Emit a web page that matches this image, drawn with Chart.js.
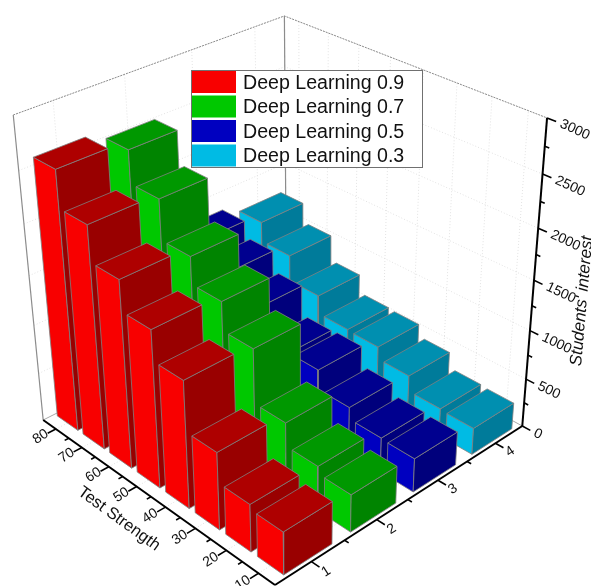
<!DOCTYPE html>
<html>
<head>
<meta charset="utf-8">
<title>3D bars</title>
<script src="https://cdn.jsdelivr.net/npm/chart.js@4"></script>
<style>
  html, body { margin: 0; padding: 0; background: #fff; }
  canvas { display: block; }
</style>
</head>
<body>
<canvas id="chart" width="591" height="586"></canvas>
<script>
const seriesNames = ["Deep Learning 0.9", "Deep Learning 0.7", "Deep Learning 0.5", "Deep Learning 0.3"];
const seriesTicks = [1, 2, 3, 4];
const strengthTicks = [10, 20, 30, 40, 50, 60, 70, 80];
const interestTicks = [0, 500, 1000, 1500, 2000, 2500, 3000];

// one value per test strength, 10 -> 80
const values09 = [430, 480, 780, 1280, 1580, 1880, 2230, 2590];
const values07 = [380, 455, 690, 1235, 1520, 1790, 2185, 2505];
const values05 = [345, 355, 475, 675, 665, 965, 1170, 1330];
const values03 = [275, 285, 445, 570, 580, 770, 1035, 1235];
const allValues = [values09, values07, values05, values03];

// face colours: side facing left, top, side facing right
const frontColors = ["#f80000", "#00c800", "#0000c0", "#00bbe4"];
const topColors = ["#ae0000", "#009800", "#00008f", "#008fb0"];
const sideColors = ["#990000", "#008400", "#00007c", "#007b9a"];

// axis ranges of the box
const seriesMin = 0.47, seriesMax = 4.49;
const strengthMin = 5, strengthMax = 85;
const interestMax = 3000;
const barU = 0.178, barV = 0.1;

// perspective camera, solved from the corners of the box
function project(u, v, w) {
  const d = 1 + 0.1383 * u + 0.1507 * v - 0.1174 * w;
  return {
    x: (319.5 * u - 225.3 * v - 36 * w + 275) / d,
    y: (-100.1 * u - 101.7 * v - 364.5 * w + 585) / d
  };
}
const toU = s => (s - seriesMin) / (seriesMax - seriesMin);
const toV = s => (s - strengthMin) / (strengthMax - strengthMin);
const toW = s => s / interestMax;

const layers = [];

function addLine(points, color, width, dash) {
  layers.push({
    data: points.map(p => project(p[0], p[1], p[2])),
    showLine: true,
    borderColor: color,
    borderWidth: width,
    borderDash: dash || [],
    pointRadius: 0,
    fill: false
  });
}

function addFace(points, color) {
  const closed = points.concat([points[0]]);
  layers.push({
    data: closed.map(p => project(p[0], p[1], p[2])),
    showLine: true,
    borderColor: "#808080",
    borderWidth: 0.8,
    backgroundColor: color,
    pointRadius: 0,
    fill: "shape"
  });
}

// grid on the walls and the floor
const gridColor = "#e2e2e2";
const gridDash = [1, 2];
seriesTicks.forEach(s => {
  const u = toU(s);
  addLine([[u, 0, 0], [u, 1, 0], [u, 1, 1]], gridColor, 1, gridDash);
});
strengthTicks.forEach(s => {
  const v = toV(s);
  addLine([[0, v, 0], [1, v, 0], [1, v, 1]], gridColor, 1, gridDash);
});
interestTicks.slice(1).forEach(s => {
  const w = toW(s);
  addLine([[0, 1, w], [1, 1, w], [1, 0, w]], gridColor, 1, gridDash);
});

// box edges
addLine([[0, 1, 0], [0, 1, 1]], "#8c8c8c", 1.2);
addLine([[1, 1, 0], [1, 1, 1]], "#8c8c8c", 1.2);
addLine([[0, 1, 0], [1, 1, 0], [1, 0, 0]], "#a8a8a8", 1);
addLine([[0, 1, 1], [1, 1, 1], [1, 0, 1]], "#8c8c8c", 1, [2, 1]);

// bars, far ones first
for (let i = seriesTicks.length - 1; i >= 0; i--) {
  for (let k = strengthTicks.length - 1; k >= 0; k--) {
    const u0 = toU(seriesTicks[i]) - barU / 2, u1 = u0 + barU;
    const v0 = toV(strengthTicks[k]) - barV / 2, v1 = v0 + barV;
    const h = toW(allValues[i][k]);
    addFace([[u0, v0, 0], [u0, v1, 0], [u0, v1, h], [u0, v0, h]], frontColors[i]);
    addFace([[u0, v0, 0], [u1, v0, 0], [u1, v0, h], [u0, v0, h]], sideColors[i]);
    addFace([[u0, v0, h], [u1, v0, h], [u1, v1, h], [u0, v1, h]], topColors[i]);
  }
}

// axes and their ticks
addLine([[0, 1, 0], [0, 0, 0]], "#000", 2);
addLine([[0, 0, 0], [1, 0, 0]], "#000", 2);
addLine([[1, 0, 0], [1, 0, 1]], "#000", 2);
seriesTicks.forEach(s => {
  addLine([[toU(s), 0, 0], [toU(s), -0.03, 0]], "#000", 1.6);
  if (s < 4) addLine([[toU(s + 0.5), 0, 0], [toU(s + 0.5), -0.015, 0]], "#000", 1.6);
});
strengthTicks.forEach(s => {
  addLine([[0, toV(s), 0], [-0.03, toV(s), 0]], "#000", 1.6);
  if (s < 80) addLine([[0, toV(s + 5), 0], [-0.015, toV(s + 5), 0]], "#000", 1.6);
});
interestTicks.forEach(s => {
  addLine([[1, 0, toW(s)], [1, -0.03, toW(s)]], "#000", 1.6);
  if (s < 3000) addLine([[1, 0, toW(s + 250)], [1, -0.015, toW(s + 250)]], "#000", 1.6);
});

function drawText(ctx, text, p, angle, font, align) {
  ctx.save();
  ctx.translate(p.x, p.y);
  ctx.rotate(angle * Math.PI / 180);
  ctx.font = font;
  ctx.fillStyle = "#111";
  ctx.textAlign = align;
  ctx.textBaseline = "middle";
  ctx.fillText(text, 0, 0);
  ctx.restore();
}

const axisText = {
  id: "axisText",
  afterDraw(chart) {
    const ctx = chart.ctx;
    const tickFont = '14px "Liberation Sans", Arial, sans-serif';
    seriesTicks.forEach(s => {
      drawText(ctx, String(s), project(toU(s), -0.055, 0), -33, tickFont, "center");
    });
    strengthTicks.forEach(s => {
      drawText(ctx, String(s), project(-0.055, toV(s), 0), -33, tickFont, "center");
    });
    interestTicks.forEach(s => {
      drawText(ctx, String(s), project(1, -0.045, toW(s)), 25, tickFont, "left");
    });
    drawText(ctx, "Test Strength", { x: 119, y: 519 }, 36, '16.5px "Liberation Sans", Arial, sans-serif', "center");
    drawText(ctx, "Students' interest", { x: 582, y: 301 }, -85, 'italic 17px "Liberation Sans", Arial, sans-serif', "center");
  }
};

const legendBox = {
  id: "legendBox",
  afterDraw(chart) {
    const ctx = chart.ctx;
    ctx.save();
    ctx.fillStyle = "#fff";
    ctx.fillRect(191.5, 70.5, 231, 97);
    ctx.strokeStyle = "#707070";
    ctx.lineWidth = 1;
    ctx.strokeRect(191.5, 70.5, 231, 97);
    seriesNames.forEach((name, i) => {
      const top = 71 + i * 24.5;
      ctx.fillStyle = frontColors[i];
      ctx.fillRect(192, top, 44, 22);
      drawText(ctx, name, { x: 243, y: top + 12.5 }, 0, '19.6px "Liberation Sans", Arial, sans-serif', "left");
    });
    ctx.restore();
  }
};

new Chart(document.getElementById("chart"), {
  type: "scatter",
  data: { datasets: layers.slice().reverse() }, // first dataset is painted last
  options: {
    responsive: false,
    animation: false,
    events: [],
    layout: { padding: 0 },
    plugins: { legend: { display: false }, tooltip: { enabled: false } },
    scales: {
      x: { type: "linear", min: 0, max: 591, display: false },
      y: { type: "linear", min: 0, max: 586, reverse: true, display: false }
    }
  },
  plugins: [axisText, legendBox]
});
</script>
</body>
</html>
